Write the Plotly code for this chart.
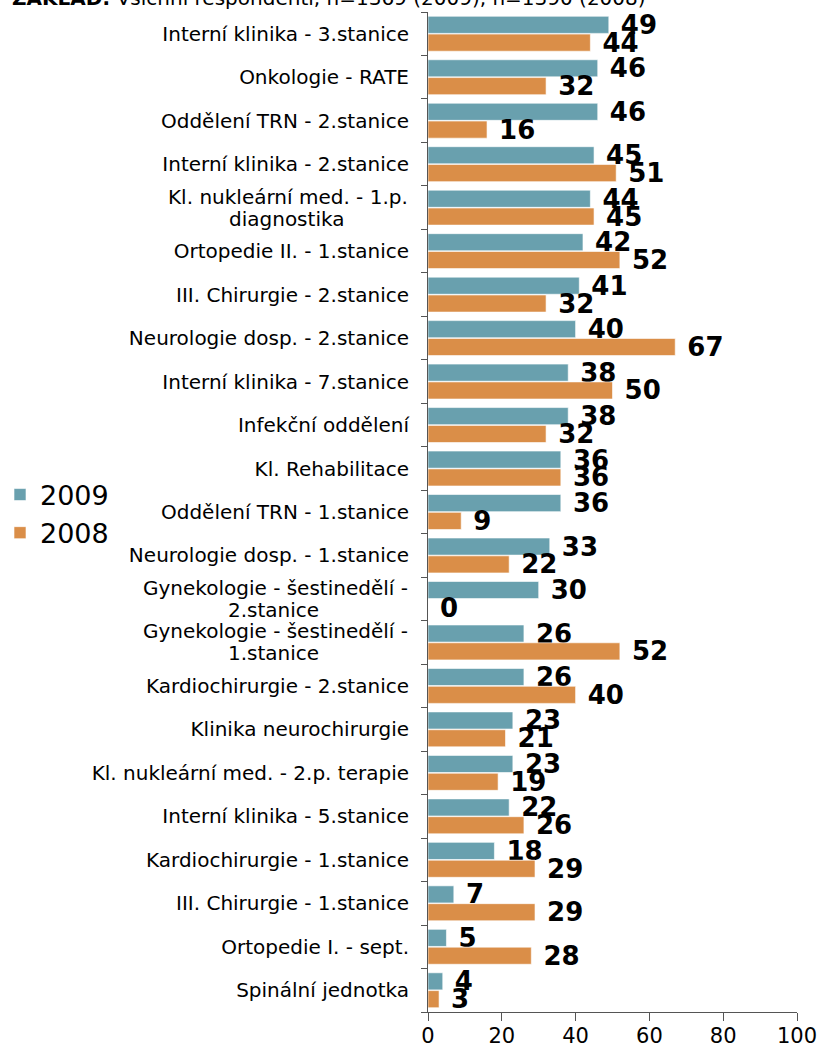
import plotly.graph_objects as go

# Departments, listed top to bottom ("<br>" marks a wrapped label)
categories = [
    "Interní klinika - 3.stanice",
    "Onkologie - RATE",
    "Oddělení TRN - 2.stanice",
    "Interní klinika - 2.stanice",
    "Kl. nukleární med. - 1.p.<br>diagnostika",
    "Ortopedie II. - 1.stanice",
    "III. Chirurgie - 2.stanice",
    "Neurologie dosp. - 2.stanice",
    "Interní klinika - 7.stanice",
    "Infekční oddělení",
    "Kl. Rehabilitace",
    "Oddělení TRN - 1.stanice",
    "Neurologie dosp. - 1.stanice",
    "Gynekologie - šestinedělí -<br>2.stanice",
    "Gynekologie - šestinedělí -<br>1.stanice",
    "Kardiochirurgie - 2.stanice",
    "Klinika neurochirurgie",
    "Kl. nukleární med. - 2.p. terapie",
    "Interní klinika - 5.stanice",
    "Kardiochirurgie - 1.stanice",
    "III. Chirurgie - 1.stanice",
    "Ortopedie I. - sept.",
    "Spinální jednotka",
]

values_2009 = [49, 46, 46, 45, 44, 42, 41, 40, 38, 38, 36, 36, 33, 30, 26, 26, 23, 23, 22, 18, 7, 5, 4]
values_2008 = [44, 32, 16, 51, 45, 52, 32, 67, 50, 32, 36, 9, 22, 0, 52, 40, 21, 19, 26, 29, 29, 28, 3]

x_ticks = [0, 20, 40, 60, 80, 100]

FONT = "DejaVu Sans"
TEAL = "#69A0AE"
ORANGE = "#DA8E48"
LABEL_SIZE = 20

fig = go.Figure()
for name, vals, color in [("2009", values_2009, TEAL), ("2008", values_2008, ORANGE)]:
    fig.add_trace(go.Bar(
        name=name,
        y=categories,
        x=vals,
        orientation="h",
        marker=dict(color=color, line=dict(color="rgba(255,255,255,0.6)", width=1)),
        text=[" " + str(v) for v in vals],
        textposition="outside",
        constraintext="none",
        cliponaxis=False,
        textfont=dict(family=FONT, size=26, color="black", weight="bold"),
    ))

W, H = 819, 1050
L, R, T, B = 428, 22, 12, 38
pw, ph = W - L - R, H - T - B
label_right = (410 - L) / pw  # right edge of category labels, in paper units

# single-line labels go on the axis; wrapped ones are drawn line by line below
tick_text = ["" if "<br>" in c else c for c in categories]

fig.update_layout(
    width=W,
    height=H,
    margin=dict(l=L, r=R, t=T, b=B, autoexpand=False),
    paper_bgcolor="white",
    plot_bgcolor="white",
    barmode="group",
    bargap=0.18,
    bargroupgap=0.04,
    font=dict(family=FONT, color="black"),
    showlegend=True,
    legend=dict(
        x=(0 - L) / pw,
        xanchor="left",
        y=(H - B - 514) / ph,
        yanchor="middle",
        font=dict(family=FONT, size=27, color="black"),
        bgcolor="rgba(0,0,0,0)",
        itemclick=False,
    ),
    xaxis=dict(
        range=[0, 100],
        tickvals=x_ticks,
        automargin=False,
        showgrid=False,
        zeroline=False,
        showline=True,
        linecolor="#555555",
        linewidth=1,
        ticks="outside",
        ticklen=8,
        tickcolor="#555555",
        ticklabelstandoff=-3,
        tickfont=dict(family=FONT, size=21, color="black"),
    ),
    yaxis=dict(
        autorange="reversed",
        tickvals=categories,
        ticktext=tick_text,
        automargin=False,
        showgrid=False,
        zeroline=False,
        showline=True,
        linecolor="#555555",
        linewidth=1,
        ticks="outside",
        tickson="boundaries",
        ticklen=6,
        tickcolor="#555555",
        ticklabelstandoff=14,
        tickfont=dict(family=FONT, size=LABEL_SIZE, color="black"),
    ),
)

# wrapped category labels: first line right-aligned, second line centred under it
wrap_pad = {"diagnostika": 10, "2.stanice": 14, "1.stanice": 14}
for cat in categories:
    if "<br>" not in cat:
        continue
    first, second = cat.split("<br>")
    for text, shift in [(first, 11), (second + "\u00a0" * wrap_pad.get(second, 0), -11)]:
        fig.add_annotation(
            text=text,
            xref="paper", yref="y",
            x=label_right, xanchor="right",
            y=cat, yanchor="middle",
            yshift=shift,
            showarrow=False,
            font=dict(family=FONT, size=LABEL_SIZE, color="black"),
        )

fig.add_annotation(
    text="<b>ZÁKLAD:</b> Všichni respondenti, n=1369 (2009), n=1390 (2008)",
    xref="paper", yref="paper",
    x=(10 - L) / pw, xanchor="left",
    y=(H - B + 1.5) / ph, yanchor="middle",
    showarrow=False,
    font=dict(family=FONT, size=20, color="black"),
)

fig.write_html("out.html")
